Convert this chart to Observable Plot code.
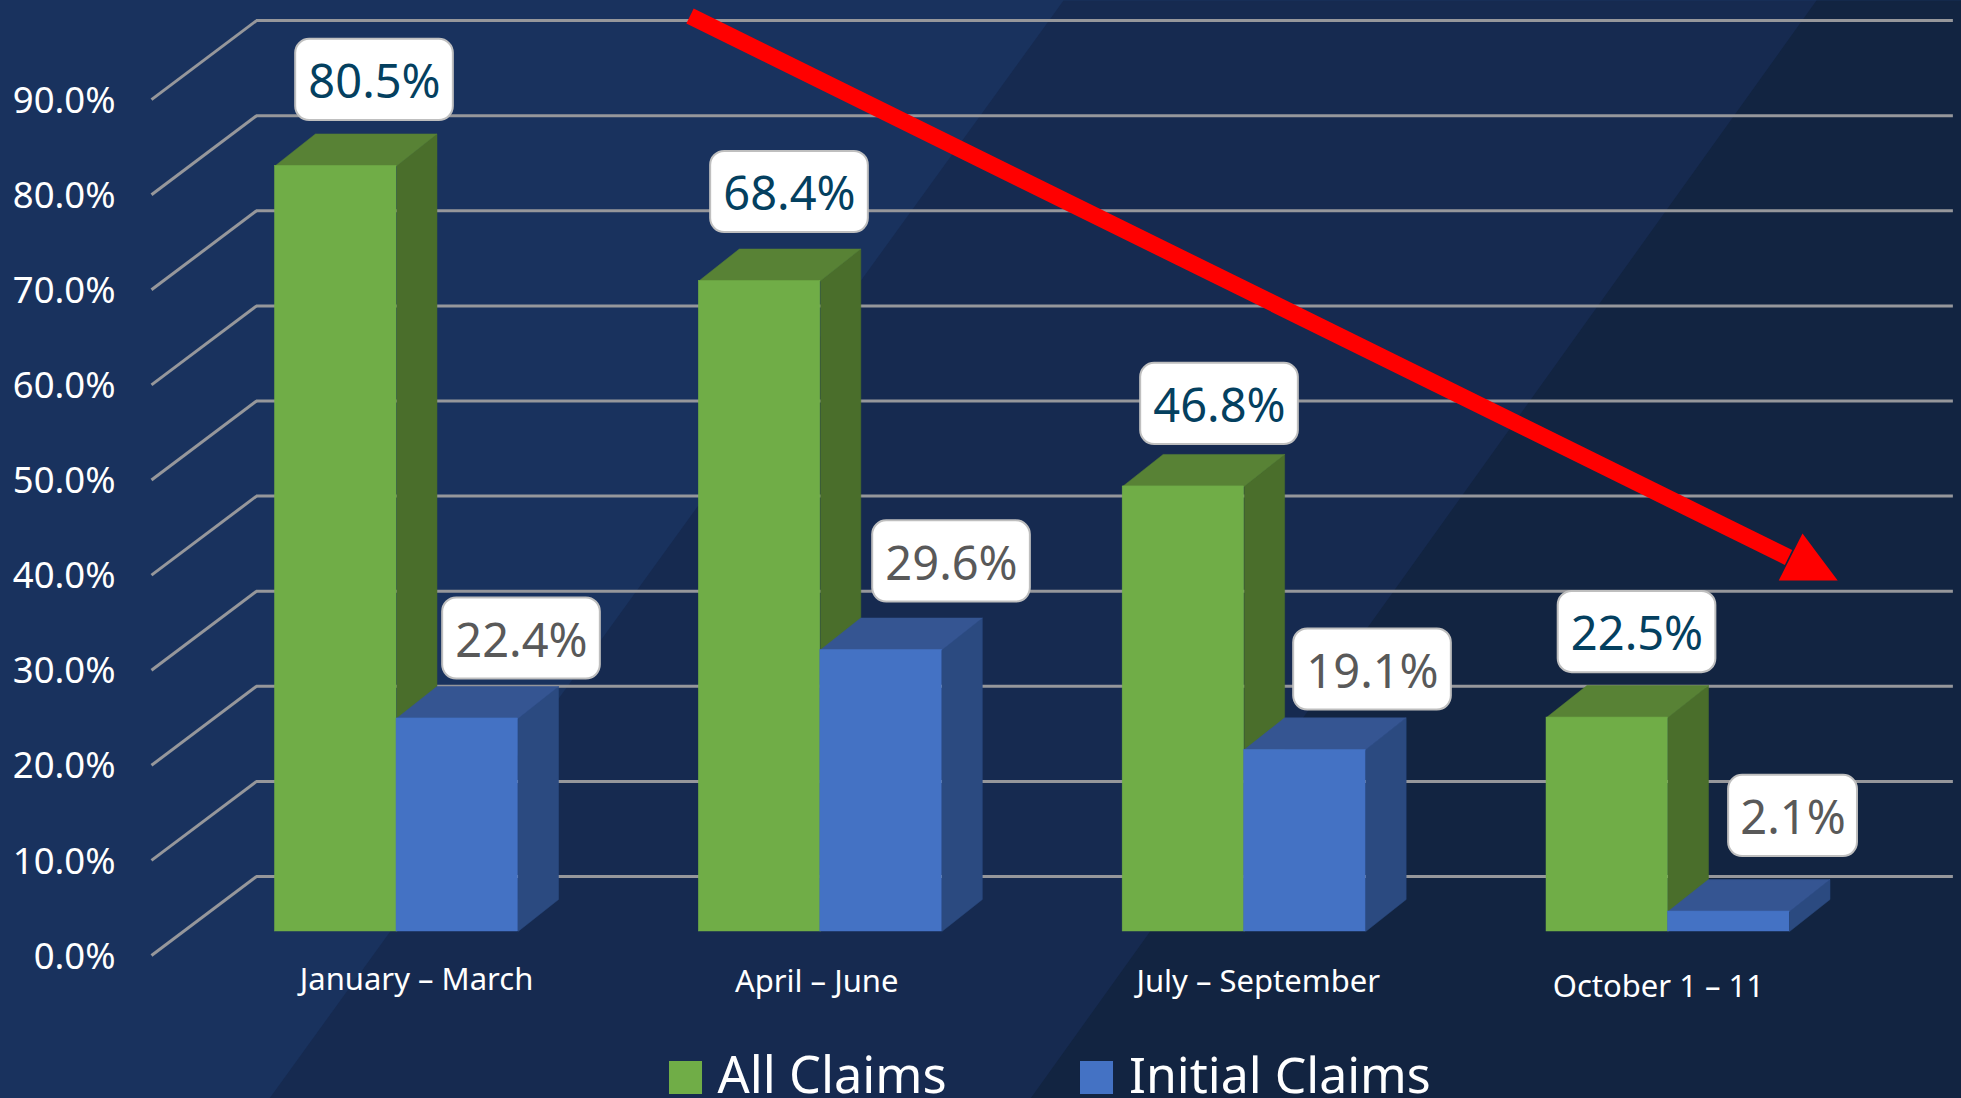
<!DOCTYPE html>
<html>
<head>
<meta charset="utf-8">
<script src="https://cdn.jsdelivr.net/npm/d3@7"></script>
<script src="https://cdn.jsdelivr.net/npm/@observablehq/plot@0.6"></script>
<style>
html,body{margin:0;padding:0;background:#19325e;overflow:hidden}
svg{display:block}
</style>
</head>
<body>
<div id="chart"></div>
<script>
const categories = ["January – March", "April – June", "July – September", "October 1 – 11"];
const allClaims = [80.5, 68.4, 46.8, 22.5];
const initialClaims = [22.4, 29.6, 19.1, 2.1];
const yTicks = [0, 10, 20, 30, 40, 50, 60, 70, 80, 90];
const seriesNames = ["All Claims", "Initial Claims"];

// layout, in scale units
const barW = 0.2867, depthX = 0.0955, depthY = 3.365;
const wallFrontX = -0.2914, wallBackX = -0.0436, wallRightX = 3.96;
const wallFrontDy = -2.524, wallBackDy = 5.783;
const allLabelX = [0.2348, 1.2139, 2.2285, 3.2136], allLabelY = [89.54, 77.76, 55.47, 31.49];
const initLabelX = [0.5816, 1.5962, 2.5895, 3.5817], initLabelY = [30.81, 38.91, 27.55, 12.15];
const catLabelX = [0.334, 1.278, 2.32, 3.264], catLabelY = [-5.15, -5.36, -5.36, -5.88];
const colors = {
  green: {front: "#70ad47", top: "#588235", side: "#4a6e2b"},
  blue: {front: "#4472c4", top: "#355592", side: "#2b4a80"}
};

const poly = (pts, color, sw = 0.5) => Plot.line(pts.map(([x, y]) => ({x, y})), {x: "x", y: "y", fill: color, stroke: color, strokeWidth: sw});

const bars = (values, off, c) => values.flatMap((v, i) => {
  const x0 = i + off, x1 = x0 + barW;
  return [
    poly([[x1, 0], [x1 + depthX, depthY], [x1 + depthX, v + depthY], [x1, v]], c.side),
    poly([[x0, v], [x0 + depthX, v + depthY], [x1 + depthX, v + depthY], [x1, v]], c.top),
    Plot.rect([v], {x1: x0, x2: x1, y1: 0, y2: d => d, fill: c.front, stroke: c.front, strokeWidth: 0.5})
  ];
});

const labelRows = (values, xs, ys, color) => values.map((v, i) => ({
  text: v.toFixed(1) + "%", x: xs[i], y: ys[i], color,
  hw: v < 10 ? 0.1520 : 0.1860
}));
const labels = [
  ...labelRows(allClaims, allLabelX, allLabelY, "#04405f"),
  ...labelRows(initialClaims, initLabelX, initLabelY, "#595959")
];
const hh = 4.27;

const chart = Plot.plot({
  width: 1961, height: 1098,
  marginLeft: 119, marginRight: 0, marginTop: 0, marginBottom: 0,
  style: {background: "#19325e", fontFamily: "'Noto Sans', sans-serif", color: "#fff"},
  x: {domain: [0, 3], range: [274.5, 1546], axis: null},
  y: {domain: [0, 90], range: [931, 75.1], axis: null},
  marks: [
    // background bands
    poly([[1.8605, 97.9], [3.979, 97.9], [3.979, -17.56], [-0.013, -17.56]], "#162a50", 0),
    poly([[3.637, 97.9], [3.979, 97.9], [3.979, -17.56], [1.7827, -17.56]], "#122441", 0),
    // floor-and-wall grid
    Plot.link(yTicks, {x1: wallFrontX, x2: wallBackX, y1: d => d + wallFrontDy, y2: d => d + wallBackDy, stroke: "#96979b", strokeWidth: 3, strokeLinecap: "butt"}),
    Plot.ruleY(yTicks, {x1: wallBackX, x2: wallRightX, y: d => d + wallBackDy, stroke: "#96979b", strokeWidth: 3}),
    // bars
    ...bars(allClaims, 0, colors.green),
    ...bars(initialClaims, barW, colors.blue),
    // axis
    Plot.axisY(yTicks, {anchor: "left", tickSize: 0, tickPadding: 4, dy: 25.5, label: null, tickFormat: d => d.toFixed(1) + "%", fill: "#fff", fontSize: 36.5}),
    Plot.text(categories, {x: (d, i) => catLabelX[i], y: (d, i) => catLabelY[i], text: d => d, fill: "#fff", fontSize: 31, textAnchor: "middle"}),
    // trend arrow
    Plot.line([{x: 0.9792, y: 96.27}, {x: 3.571, y: 39.33}], {x: "x", y: "y", stroke: "#ff0000", strokeWidth: 16.6, strokeLinecap: "butt"}),
    poly([[3.604, 41.85], [3.687, 36.91], [3.548, 36.91]], "#ff0000", 0),
    // value labels
    Plot.rect(labels, {x1: d => d.x - d.hw, x2: d => d.x + d.hw, y1: d => d.y - hh, y2: d => d.y + hh, fill: "#fff", stroke: "#bfbfbf", strokeWidth: 2, rx: 14}),
    Plot.text(labels, {x: "x", y: "y", text: "text", fill: "color", fontSize: 47, dy: 3, textAnchor: "middle"}),
    // legend
    Plot.rect([0], {x1: 0.9308, x2: 1.0087, y1: -13.67, y2: -17.14, fill: colors.green.front}),
    Plot.rect([0], {x1: 1.9005, x2: 1.9784, y1: -13.67, y2: -17.14, fill: colors.blue.front}),
    Plot.text([seriesNames[0]], {x: 1.0441, y: -17.03, text: d => d, fill: "#fff", fontSize: 50.5, textAnchor: "start", lineAnchor: "bottom"}),
    Plot.text([seriesNames[1]], {x: 2.0150, y: -17.03, text: d => d, fill: "#fff", fontSize: 50, textAnchor: "start", lineAnchor: "bottom"})
  ]
});
document.getElementById("chart").append(chart);
</script>
</body>
</html>
